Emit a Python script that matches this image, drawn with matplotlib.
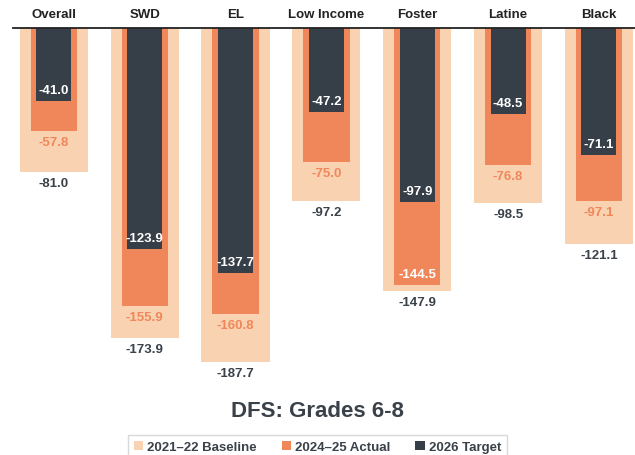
import matplotlib
matplotlib.use("Agg")
import matplotlib.pyplot as plt
from matplotlib.patches import Patch
import numpy as np

categories = ["Overall", "SWD", "EL", "Low Income", "Foster", "Latine", "Black"]
baseline = [-81.0, -173.9, -187.7, -97.2, -147.9, -98.5, -121.1]
actual = [-57.8, -155.9, -160.8, -75.0, -144.5, -76.8, -97.1]
target = [-41.0, -123.9, -137.7, -47.2, -97.9, -48.5, -71.1]
series_names = ["2021\u201322 Baseline", "2024\u201325 Actual", "2026 Target"]
title = "DFS: Grades 6-8"

c_base = "#F9D2B1"
c_act = "#F0875A"
c_tgt = "#363E47"
c_text = "#3A4149"

plt.rcParams['font.family'] = ['Liberation Sans Narrow', 'Liberation Sans', 'DejaVu Sans']

W, H = 635, 456
fig = plt.figure(figsize=(W / 100, H / 100), dpi=100)
ax_top, ax_bot = 29, 390
ax_left, ax_right = 13, 638
ax = fig.add_axes([ax_left / W, 1 - ax_bot / H, (ax_right - ax_left) / W, (ax_bot - ax_top) / H])

x = np.arange(len(categories))
ax.bar(x, baseline, width=0.75, color=c_base, zorder=1)
ax.bar(x, actual, width=0.51, color=c_act, zorder=2)
ax.bar(x, target, width=0.385, color=c_tgt, zorder=3)

ax.set_xlim(-0.45, 6.43)
ax.set_ylim(-202.8, 0)

fs = 9.5
off = 6.2
for i in range(len(categories)):
    ax.text(x[i], target[i] + off, f"{target[i]:.1f}", ha="center", va="center",
            color="white", fontsize=fs, fontweight="bold", zorder=5)
    if baseline[i] - actual[i] > -12:
        ax.text(x[i], actual[i] + off, f"{actual[i]:.1f}", ha="center", va="center",
                color="white", fontsize=fs, fontweight="bold", zorder=5)
    else:
        ax.text(x[i], actual[i] - off, f"{actual[i]:.1f}", ha="center", va="center",
                color=c_act, fontsize=fs, fontweight="bold", zorder=5)
    ax.text(x[i], baseline[i] - off, f"{baseline[i]:.1f}", ha="center", va="center",
            color=c_text, fontsize=fs, fontweight="bold", zorder=5)
    ax.text(x[i], 7.8, categories[i], ha="center", va="center", color="#222222",
            fontsize=fs, fontweight="bold", clip_on=False)

for s in ["left", "right", "bottom"]:
    ax.spines[s].set_visible(False)
ax.spines["top"].set_color("#222222")
ax.spines["top"].set_linewidth(1.3)
ax.spines["top"].set_zorder(6)
ax.set_xticks([])
ax.set_yticks([])

fig.text(0.5, 1 - 412 / H, title, ha="center", va="center", fontsize=16,
         fontweight="bold", color=c_text)

handles = [Patch(facecolor=c_base), Patch(facecolor=c_act), Patch(facecolor=c_tgt)]
leg = fig.legend(handles, series_names, loc="center", bbox_to_anchor=(0.5, 1 - 448 / H),
                 ncol=3, frameon=True, fancybox=False, edgecolor="#D0D0D0",
                 handlelength=0.7, handleheight=0.7, handletextpad=0.3, columnspacing=1.9,
                 prop={"weight": "bold", "size": 9.5}, borderpad=0.45)
for t in leg.get_texts():
    t.set_color(c_text)

fig.savefig("out.png", dpi=100)
